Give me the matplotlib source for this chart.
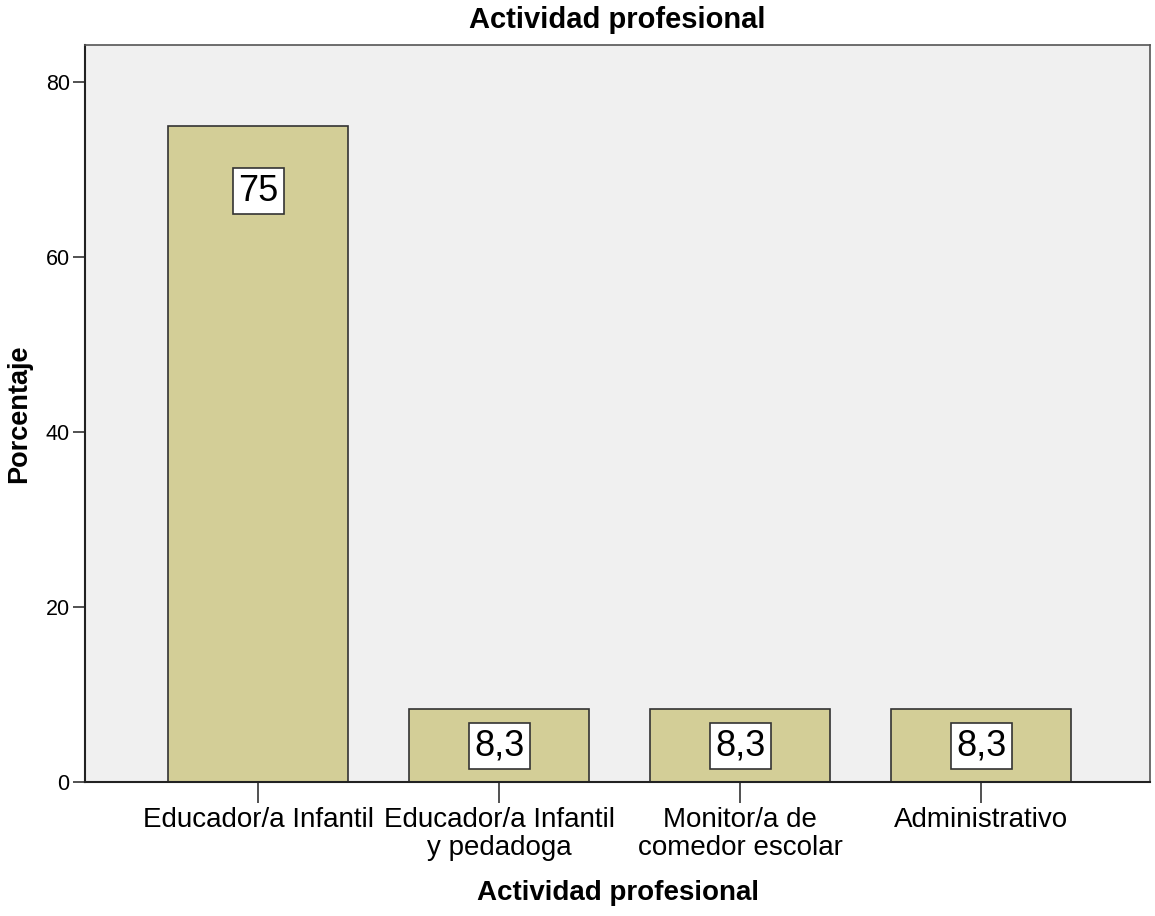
import matplotlib
matplotlib.use("Agg")
import matplotlib.pyplot as plt
import numpy as np

plt.rcParams['font.family'] = ['Liberation Sans', 'DejaVu Sans']

# Data
categories = ['Educador/a Infantil', 'Educador/a Infantil\ny pedadoga',
              'Monitor/a de\ncomedor escolar', 'Administrativo']
values = [75, 8.3, 8.3, 8.3]
value_labels = ['75', '8,3', '8,3', '8,3']
yticks = [0, 20, 40, 60, 80]

fig = plt.figure(figsize=(11.55, 9.16), dpi=100)
ax = fig.add_axes([0.0736, 0.1463, 0.9221, 0.8046])
ax.set_facecolor('#F0F0F0')

x = np.arange(len(categories))
ax.bar(x, values, width=0.747, color='#D3CE97', edgecolor='#333333', linewidth=1.2, zorder=2)

# value labels in white boxes, near the top of tall bars, centred in short ones
for xi, v, lab in zip(x, values, value_labels):
    ypos = max(v / 2, v - 7.5)
    ax.text(xi, ypos, lab, ha='center', va='center', fontsize=26, zorder=3,
            bbox=dict(boxstyle='square,pad=0.15', facecolor='white', edgecolor='#333333', linewidth=1.2))

ax.set_xlim(-0.718, 3.70)
ax.set_ylim(0, 84.2)
ax.set_yticks(yticks)
ax.set_yticklabels([str(t) for t in yticks], fontsize=15.5)
ax.set_xticks(x)
ax.set_xticklabels(categories, fontsize=20, linespacing=1.1)
ax.tick_params(axis='y', length=9, width=1.2, color='#333333', pad=2)
ax.tick_params(axis='x', length=15, width=1.2, color='#333333', pad=3)

for side in ['left', 'bottom']:
    ax.spines[side].set_color('#222222')
    ax.spines[side].set_linewidth(1.5)
for side in ['top', 'right']:
    ax.spines[side].set_color('#555555')
    ax.spines[side].set_linewidth(1.2)

ax.set_title('Actividad profesional', fontsize=21, fontweight='bold', pad=12)
ax.set_xlabel('Actividad profesional', fontsize=20, fontweight='bold', labelpad=14)
ax.set_ylabel('Porcentaje', fontsize=19.5, fontweight='bold', labelpad=10)

fig.savefig('out.png', dpi=100)
